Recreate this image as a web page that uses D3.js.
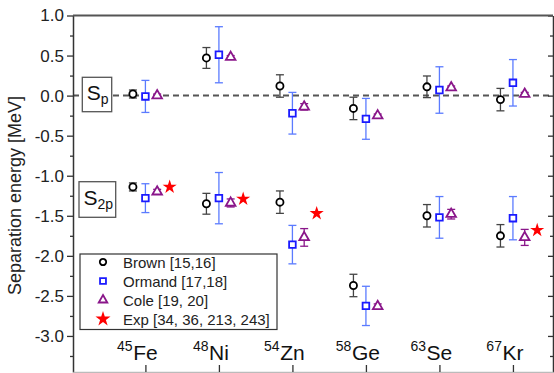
<!DOCTYPE html>
<html>
<head>
<meta charset="utf-8">
<script src="https://cdn.jsdelivr.net/npm/d3@7"></script>
<style>
  body { margin: 0; background: #fff; }
  svg { display: block; font-family: "Liberation Sans", Arial, sans-serif; }
</style>
</head>
<body>
<svg id="chart" width="554" height="373"></svg>
<script>
  'use strict';

  // nuclei along the x axis
  var elements = ['Fe', 'Ni', 'Zn', 'Ge', 'Se', 'Kr'];
  var massNumbers = ['45', '48', '54', '58', '63', '67'];

  // one-proton separation energy S_p [MeV]
  var brownSp = [0.02, 0.47, 0.12, -0.16, 0.11, -0.05];
  var brownSpErr = [0.05, 0.13, 0.14, 0.14, 0.135, 0.14];
  var ormandSp = [-0.01, 0.51, -0.22, -0.29, 0.07, 0.16];
  var ormandSpErr = [0.2, 0.35, 0.26, 0.255, 0.29, 0.29];
  var coleSp = [0.0, 0.48, -0.14, -0.25, 0.10, 0.02];
  var coleSpErr = [0.02, 0.02, 0.04, 0.02, 0.02, 0.02];

  // two-proton separation energy S_2p [MeV]
  var brownS2p = [-1.14, -1.35, -1.33, -2.37, -1.50, -1.75];
  var brownS2pErr = [0.05, 0.13, 0.14, 0.14, 0.14, 0.14];
  var ormandS2p = [-1.28, -1.28, -1.86, -2.625, -1.52, -1.53];
  var ormandS2pErr = [0.18, 0.32, 0.24, 0.245, 0.26, 0.27];
  var coleS2p = [-1.20, -1.34, -1.77, -2.63, -1.48, -1.77];
  var coleS2pErr = [0.03, 0.05, 0.11, 0.03, 0.06, 0.10];
  var expS2p = [-1.14, -1.29, -1.47, null, null, -1.68];

  var yTicks = [1.0, 0.5, 0.0, -0.5, -1.0, -1.5, -2.0, -2.5, -3.0];
  var yMinorTicks = [0.75, 0.25, -0.25, -0.75, -1.25, -1.75, -2.25, -2.75, -3.25];

  var legendLabels = ['Brown [15,16]', 'Ormand [17,18]', 'Cole [19, 20]', 'Exp [34, 36, 213, 243]'];

  var svg = d3.select('#chart');

  var x = d3.scaleLinear().domain([0.015, 6.545]).range([73, 553]);
  var y = d3.scaleLinear().domain([-3.45, 1.0]).range([372, 15.5]);

  var series = [
    {name: 'brown', offset: -0.17, color: '#000', errColor: '#444', shape: d3.symbolCircle, size: 40,
      values: [brownSp, brownS2p], errs: [brownSpErr, brownS2pErr]},
    {name: 'ormand', offset: 0, color: '#1a1aff', errColor: '#5b7bff', shape: d3.symbolSquare, size: 44,
      values: [ormandSp, ormandS2p], errs: [ormandSpErr, ormandS2pErr]},
    {name: 'cole', offset: 0.16, color: '#8a168a', errColor: '#8a168a', shape: d3.symbolTriangle, size: 40,
      values: [coleSp, coleS2p], errs: [coleSpErr, coleS2pErr]},
    {name: 'exp', offset: 0.33, color: '#ff0000', errColor: '#ff0000', shape: d3.symbolStar, size: 62,
      values: [expS2p], errs: [null]}
  ];

  // zero line
  svg.append('line')
    .attr('x1', x.range()[0]).attr('x2', x.range()[1])
    .attr('y1', y(0)).attr('y2', y(0))
    .attr('stroke', '#555').attr('stroke-width', 2)
    .attr('stroke-dasharray', '6,4');

  // axes
  function styleAxis(g) {
    g.select('.domain').attr('stroke', '#333').attr('stroke-width', 1.5);
    g.selectAll('.tick line').attr('stroke', '#333').attr('stroke-width', 1.3);
  }

  svg.append('g')
    .attr('transform', 'translate(73,0)')
    .call(d3.axisLeft(y).tickValues(yTicks).tickSize(6).tickSizeOuter(0)
      .tickPadding(3).tickFormat(d3.format('.1f')))
    .call(styleAxis)
    .call(function (g) {
      g.selectAll('.tick text')
        .attr('fill', '#222')
        .style('font-size', '17px')
        .text(function (d) { return d3.format('.1f')(d).replace('\u2212', '-'); });
    });

  svg.append('g')
    .attr('transform', 'translate(73,0)')
    .call(d3.axisLeft(y).tickValues(yMinorTicks).tickSize(3).tickSizeOuter(0).tickFormat(''))
    .call(styleAxis)
    .call(function (g) { g.select('.domain').remove(); });

  svg.append('g')
    .attr('transform', 'translate(553,0)')
    .call(d3.axisRight(y).tickValues(yTicks).tickSize(-5).tickSizeOuter(0).tickFormat(''))
    .call(styleAxis);

  svg.append('g')
    .attr('transform', 'translate(553,0)')
    .call(d3.axisRight(y).tickValues(yMinorTicks).tickSize(-3).tickSizeOuter(0).tickFormat(''))
    .call(styleAxis)
    .call(function (g) { g.select('.domain').remove(); });

  svg.append('g')
    .attr('transform', 'translate(0,' + y(-3.45) + ')')
    .call(d3.axisBottom(x).tickValues(d3.range(1, elements.length + 1)).tickSize(-7)
      .tickSizeOuter(0).tickFormat(''))
    .call(styleAxis)
    .call(function (g) { g.select('.domain').attr('stroke', '#bbb'); });

  svg.append('line')
    .attr('x1', x.range()[0]).attr('x2', x.range()[1])
    .attr('y1', y(1.0)).attr('y2', y(1.0))
    .attr('stroke', '#555').attr('stroke-width', 2);

  // y label
  svg.append('text')
    .attr('transform', 'translate(15,195.5) rotate(-90)')
    .attr('text-anchor', 'middle')
    .attr('dominant-baseline', 'central')
    .style('font-size', '18px')
    .attr('fill', '#222')
    .text('Separation energy [MeV]');

  // category labels
  var cat = svg.append('g').selectAll('g')
    .data(elements)
    .enter()
    .append('g');

  cat.each(function (d, i) {
    var g = d3.select(this);
    var el = g.append('text')
      .attr('x', x(i + 1))
      .attr('y', 360)
      .attr('text-anchor', 'middle')
      .style('font-size', '21px')
      .attr('fill', '#111')
      .text(d);
    var w = el.node().getComputedTextLength();
    g.append('text')
      .attr('x', x(i + 1) - w / 2 - 0.5)
      .attr('y', 351)
      .attr('text-anchor', 'end')
      .style('font-size', '14px')
      .attr('fill', '#111')
      .text(massNumbers[i]);
  });

  // S_p / S_2p label boxes
  function labelBox(x0, y0, w, h, sub, baseline) {
    svg.append('rect')
      .attr('x', x0).attr('y', y0).attr('width', w).attr('height', h)
      .attr('fill', '#fff').attr('stroke', '#555').attr('stroke-width', 1.3);
    var t = svg.append('text')
      .attr('x', x0 + 4.5)
      .attr('y', baseline)
      .attr('fill', '#111')
      .style('font-size', '21px');
    t.append('tspan').text('S');
    t.append('tspan').attr('dy', 4).style('font-size', '14px').text(sub);
  }
  labelBox(82.3, 77.3, 29.4, 34.4, 'p', 100);
  labelBox(79, 181.7, 36.7, 35.6, '2p', 205);

  // error bars and markers
  series.forEach(function (s) {
    var g = svg.append('g').attr('class', s.name);
    s.values.forEach(function (vals, k) {
      var errs = s.errs[k];
      var pts = vals.map(function (v, i) {
        return {x: i + 1 + s.offset, v: v, e: errs ? errs[i] : 0};
      }).filter(function (p) { return p.v !== null; });

      if (errs) {
        var eb = g.selectAll('g.err' + k)
          .data(pts)
          .enter()
          .append('g')
          .attr('class', 'err' + k)
          .attr('stroke', s.errColor)
          .attr('stroke-width', 1.3);
        eb.append('line')
          .attr('x1', function (p) { return x(p.x); })
          .attr('x2', function (p) { return x(p.x); })
          .attr('y1', function (p) { return y(p.v + p.e); })
          .attr('y2', function (p) { return y(p.v - p.e); });
        [1, -1].forEach(function (sign) {
          eb.append('line')
            .attr('x1', function (p) { return x(p.x) - 4; })
            .attr('x2', function (p) { return x(p.x) + 4; })
            .attr('y1', function (p) { return y(p.v + sign * p.e); })
            .attr('y2', function (p) { return y(p.v + sign * p.e); });
        });
      }

      g.selectAll('path.m' + k)
        .data(pts)
        .enter()
        .append('path')
        .attr('class', 'm' + k)
        .attr('d', d3.symbol().type(s.shape).size(s.size))
        .attr('transform', function (p) { return 'translate(' + x(p.x) + ',' + y(p.v) + ')'; })
        .attr('fill', s.name === 'exp' ? s.color : '#fff')
        .attr('stroke', s.name === 'exp' ? 'none' : s.color)
        .attr('stroke-width', 1.8);
    });
  });

  // legend
  var legend = svg.append('g');
  legend.append('rect')
    .attr('x', 80).attr('y', 254).attr('width', 197).attr('height', 75.5)
    .attr('fill', '#fff').attr('stroke', '#333').attr('stroke-width', 1.2);

  var items = legend.selectAll('g.item')
    .data(series)
    .enter()
    .append('g')
    .attr('class', 'item')
    .attr('transform', function (s, i) { return 'translate(103,' + (262 + i * 19) + ')'; });

  items.append('path')
    .attr('d', function (s) {
      return d3.symbol().type(s.shape).size(s.name === 'exp' ? 70 : s.size * 0.8)();
    })
    .attr('fill', function (s) { return s.name === 'exp' ? s.color : '#fff'; })
    .attr('stroke', function (s) { return s.name === 'exp' ? 'none' : s.color; })
    .attr('stroke-width', 1.8);

  items.append('text')
    .attr('x', 20)
    .attr('dominant-baseline', 'central')
    .style('font-size', '15px')
    .attr('fill', '#222')
    .text(function (s, i) { return legendLabels[i]; });
</script>
</body>
</html>
